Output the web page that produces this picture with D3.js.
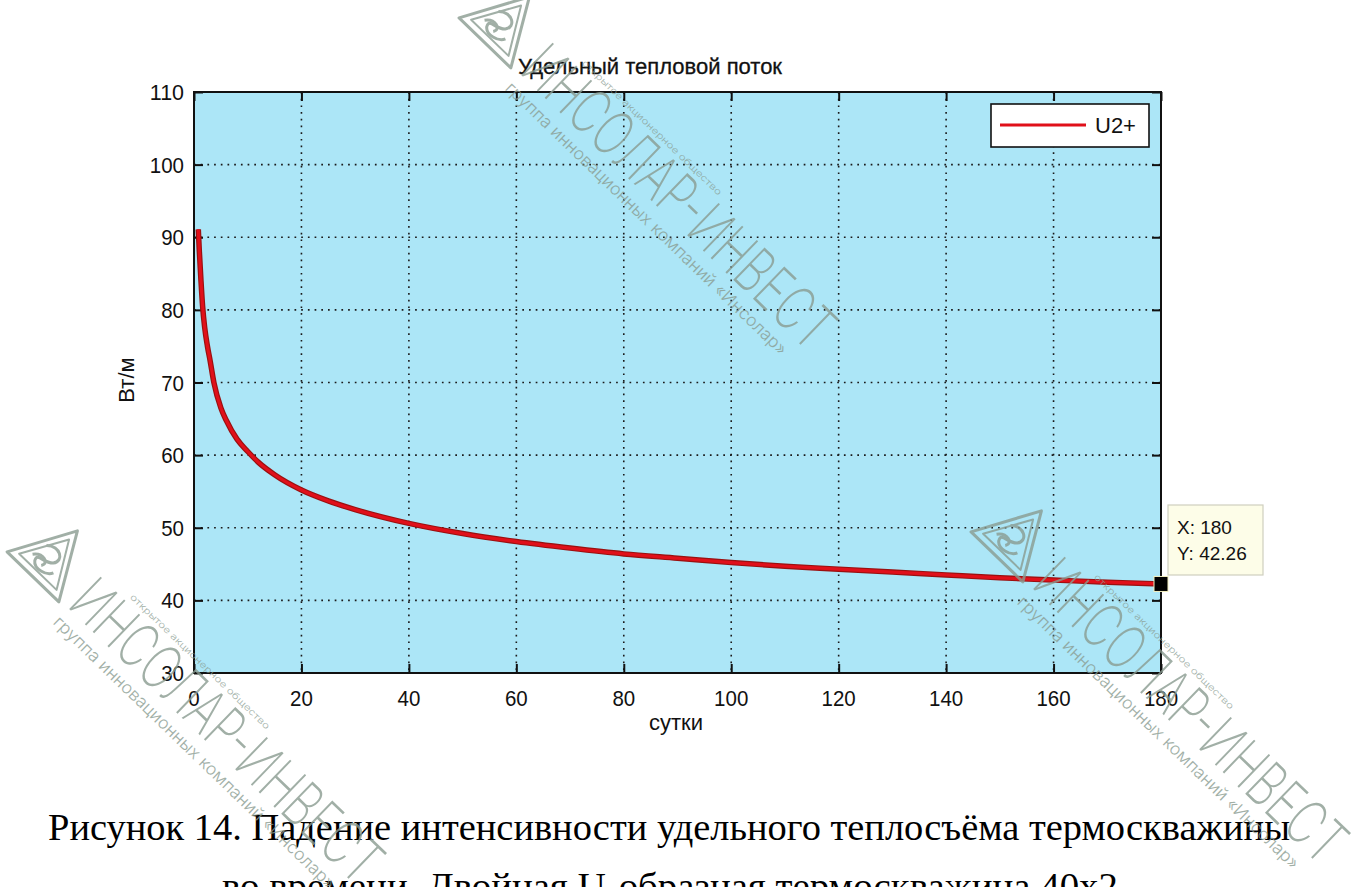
<!DOCTYPE html>
<html>
<head>
<meta charset="utf-8">
<script src="https://cdn.jsdelivr.net/npm/d3@7"></script>
<style>
  body { margin: 0; background: #ffffff; }
  svg { display: block; }
</style>
</head>
<body>
<svg id="chart" width="1356" height="887"></svg>
<script>
// Specific heat flux of the borehole over time
const days = [0.8, 1, 1.3, 1.6, 2, 2.5, 3, 3.7, 5, 6, 8, 10, 12, 15, 20, 25, 30, 40, 50, 60, 70, 80, 90, 100, 110, 120, 130, 140, 150, 160, 170, 180];
const flux = [91.1, 88, 84, 80.5, 77.5, 75, 73, 70, 66.5, 64.8, 62.2, 60.5, 59, 57.3, 55.2, 53.7, 52.5, 50.6, 49.2, 48.1, 47.2, 46.4, 45.8, 45.2, 44.7, 44.3, 43.9, 43.5, 43.1, 42.8, 42.5, 42.26];
const xTicks = [0, 20, 40, 60, 80, 100, 120, 140, 160, 180];
const yTicks = [30, 40, 50, 60, 70, 80, 90, 100, 110];
const seriesName = "U2+";
const chartTitle = "Удельный тепловой поток";
const xLabel = "сутки";
const yLabel = "Вт/м";
const captionLines = [
  "Рисунок 14. Падение интенсивности удельного теплосъёма термоскважины",
  "во времени. Двойная U-образная термоскважина 40х2"
];
const brandName = "ИНСОЛАР-ИНВЕСТ";
const brandGroup = "группа инновационных компаний «Инсолар»";
const brandType = "открытое акционерное общество";

const svg = d3.select("#chart");
const plot = { left: 194, right: 1161, top: 92, bottom: 673 };
const x = d3.scaleLinear().domain([0, 180]).range([plot.left, plot.right]);
const y = d3.scaleLinear().domain([30, 110]).range([plot.bottom, plot.top]);
const sans = "'Liberation Sans', Arial, sans-serif";
const fs = 22;

// axes background
svg.append("rect")
  .attr("x", plot.left).attr("y", plot.top)
  .attr("width", plot.right - plot.left).attr("height", plot.bottom - plot.top)
  .attr("fill", "#ace6f7");

// dotted grid
const grid = svg.append("g").attr("stroke", "#1a1a1a").attr("stroke-width", 1.6)
  .attr("stroke-dasharray", "1.7,5");
grid.selectAll("line.gx").data(xTicks.slice(1, -1)).join("line")
  .attr("class", "gx")
  .attr("x1", d => x(d)).attr("x2", d => x(d))
  .attr("y1", plot.top).attr("y2", plot.bottom);
grid.selectAll("line.gy").data(yTicks.slice(1, -1)).join("line")
  .attr("class", "gy")
  .attr("x1", plot.left).attr("x2", plot.right)
  .attr("y1", d => y(d)).attr("y2", d => y(d));

// inward ticks on all four sides
const tickLen = 9;
const axisStyle = g => g.call(s => s.select(".domain").remove())
  .call(s => s.selectAll(".tick line").attr("stroke", "#111").attr("stroke-width", 2))
  .call(s => s.selectAll(".tick text").remove());
svg.append("g").attr("transform", `translate(0,${plot.bottom})`)
  .call(d3.axisTop(x).tickValues(xTicks).tickSize(tickLen)).call(axisStyle);
svg.append("g").attr("transform", `translate(0,${plot.top})`)
  .call(d3.axisBottom(x).tickValues(xTicks).tickSize(tickLen)).call(axisStyle);
svg.append("g").attr("transform", `translate(${plot.left},0)`)
  .call(d3.axisRight(y).tickValues(yTicks).tickSize(tickLen)).call(axisStyle);
svg.append("g").attr("transform", `translate(${plot.right},0)`)
  .call(d3.axisLeft(y).tickValues(yTicks).tickSize(tickLen)).call(axisStyle);

// tick labels (slightly condensed face)
svg.append("g").selectAll("text").data(xTicks).join("text")
  .attr("x", d => x(d)).attr("y", plot.bottom + 33)
  .attr("text-anchor", "middle").attr("font-family", sans).attr("font-size", fs)
  .attr("textLength", d => String(d).length * 11.4).attr("lengthAdjust", "spacingAndGlyphs")
  .attr("fill", "#111").text(d => d);
svg.append("g").selectAll("text").data(yTicks).join("text")
  .attr("x", plot.left - 10).attr("y", d => y(d) + 8)
  .attr("text-anchor", "end").attr("font-family", sans).attr("font-size", fs)
  .attr("textLength", d => String(d).length * 11.4).attr("lengthAdjust", "spacingAndGlyphs")
  .attr("fill", "#111").text(d => d);

// frame
svg.append("rect")
  .attr("x", plot.left).attr("y", plot.top)
  .attr("width", plot.right - plot.left).attr("height", plot.bottom - plot.top)
  .attr("fill", "none").attr("stroke", "#111").attr("stroke-width", 2);

// titles
svg.append("text").attr("x", 650).attr("y", 74).attr("text-anchor", "middle")
  .attr("font-family", sans).attr("font-size", fs).attr("fill", "#111")
  .attr("stroke", "#111").attr("stroke-width", 0.3)
  .attr("textLength", 264).attr("lengthAdjust", "spacingAndGlyphs").text(chartTitle);
svg.append("text").attr("x", 676).attr("y", 730).attr("text-anchor", "middle")
  .attr("font-family", sans).attr("font-size", fs).attr("fill", "#111").text(xLabel);
svg.append("text").attr("transform", "translate(134,380) rotate(-90)")
  .attr("text-anchor", "middle")
  .attr("font-family", sans).attr("font-size", fs).attr("fill", "#111").text(yLabel);

// heat flux curve
const pts = days.map((d, i) => [d, flux[i]]);
const line = d3.line().x(d => x(d[0])).y(d => y(d[1])).curve(d3.curveMonotoneX);
svg.append("clipPath").attr("id", "plotClip").append("rect")
  .attr("x", plot.left).attr("y", plot.top)
  .attr("width", plot.right - plot.left).attr("height", plot.bottom - plot.top);
const curves = svg.append("g").attr("clip-path", "url(#plotClip)");
curves.append("path").datum(pts).attr("d", line)
  .attr("fill", "none").attr("stroke", "#9a1010").attr("stroke-width", 5.5);
curves.append("path").datum(pts).attr("d", line)
  .attr("fill", "none").attr("stroke", "#e0101a").attr("stroke-width", 3.2);

// legend
const lg = svg.append("g");
lg.append("rect").attr("x", 991).attr("y", 104).attr("width", 158).attr("height", 43)
  .attr("fill", "#ffffff").attr("stroke", "#111").attr("stroke-width", 1.6);
lg.append("line").attr("x1", 1000).attr("x2", 1086).attr("y1", 125).attr("y2", 125)
  .attr("stroke", "#e0101a").attr("stroke-width", 3.2);
lg.append("text").attr("x", 1095).attr("y", 133).attr("font-family", sans)
  .attr("font-size", fs).attr("fill", "#111").text(seriesName);

// data tip at the last sample
const last = pts[pts.length - 1];
const tip = svg.append("g");
tip.append("rect").attr("x", 1168).attr("y", 505).attr("width", 95).attr("height", 70)
  .attr("fill", "#fdfde8").attr("stroke", "#cfcfbf").attr("stroke-width", 1.2);
tip.append("text").attr("x", 1177).attr("y", 534).attr("font-family", sans)
  .attr("font-size", 19).attr("fill", "#111").text("X: " + last[0]);
tip.append("text").attr("x", 1177).attr("y", 560).attr("font-family", sans)
  .attr("font-size", 19).attr("fill", "#111").text("Y: " + last[1].toFixed(2));
tip.append("rect").attr("x", x(last[0]) - 7).attr("y", y(last[1]) - 7.5)
  .attr("width", 14).attr("height", 15).attr("fill", "#000")
  .attr("stroke", "#f4f0c0").attr("stroke-width", 1);

// figure caption
const serif = "'Liberation Serif', 'Times New Roman', serif";
svg.append("text").attr("x", 669).attr("y", 840).attr("text-anchor", "middle")
  .attr("font-family", serif).attr("font-size", 38).attr("fill", "#000")
  .attr("textLength", 1242).attr("lengthAdjust", "spacingAndGlyphs").text(captionLines[0]);
svg.append("text").attr("x", 670).attr("y", 899).attr("text-anchor", "middle")
  .attr("font-family", serif).attr("font-size", 38).attr("fill", "#000")
  .attr("textLength", 896).attr("lengthAdjust", "spacingAndGlyphs").text(captionLines[1]);

// company watermarks
function watermark(ox, oy) {
  const g = svg.append("g")
    .attr("transform", `translate(${ox},${oy}) rotate(44)`)
    .attr("opacity", 0.8);
  const c = "#8a9c91";
  // logo
  const logo = g.append("g").attr("transform", "translate(-44,-24)")
    .attr("fill", "none").attr("stroke", c).attr("stroke-width", 3)
    .attr("stroke-linejoin", "round");
  logo.append("path").attr("d", "M0,-38 L36,26 L-36,26 Z");
  logo.append("path").attr("d", "M0,-26 L26,19 L-26,19 Z").attr("stroke-width", 2);
  logo.append("path").attr("d", "M-12,-6 C-2,-16 12,-7 5,2 C-2,9 -14,5 -10,13 C-5,20 9,16 12,9");
  logo.append("path").attr("d", "M-16,10 C-9,1 3,5 -2,12");
  g.append("text").attr("x", 0).attr("y", 0)
    .attr("font-family", "Inter, 'Liberation Sans', sans-serif").attr("font-weight", 200)
    .attr("font-size", 62).attr("fill", c)
    .attr("textLength", 405).attr("lengthAdjust", "spacingAndGlyphs").text(brandName);
  g.append("text").attr("x", 2).attr("y", 22)
    .attr("font-family", "Inter, 'Liberation Sans', sans-serif").attr("font-weight", 300)
    .attr("font-size", 17).attr("fill", c)
    .attr("textLength", 384).attr("lengthAdjust", "spacingAndGlyphs").text(brandGroup);
  g.append("text").attr("x", 40).attr("y", -50)
    .attr("font-family", "Inter, 'Liberation Sans', sans-serif").attr("font-weight", 300)
    .attr("font-size", 9).attr("fill", c)
    .attr("textLength", 190).attr("lengthAdjust", "spacingAndGlyphs").text(brandType);
}
watermark(518, 72);
watermark(66, 606);
watermark(1030, 586);
</script>
</body>
</html>
